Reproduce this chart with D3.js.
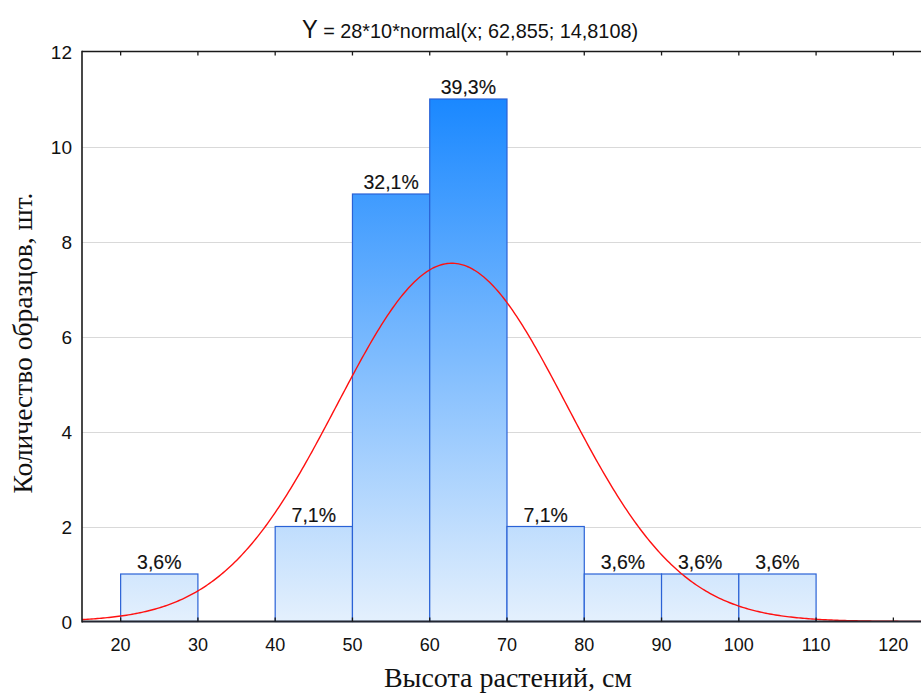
<!DOCTYPE html>
<html>
<head>
<meta charset="utf-8">
<script src="https://cdn.jsdelivr.net/npm/d3@7"></script>
<style>
  html, body { margin: 0; padding: 0; background: #fff; }
  svg { display: block; }
</style>
</head>
<body>
<svg id="chart" width="921" height="694"></svg>
<script>
// Histogram of plant heights with fitted normal curve
const binStarts = [20, 30, 40, 50, 60, 70, 80, 90, 100];
const binWidth = 10;
const counts = [1, 0, 2, 9, 11, 2, 1, 1, 1];
const xTicks = [20, 30, 40, 50, 60, 70, 80, 90, 100, 110, 120];
const yTicks = [0, 2, 4, 6, 8, 10, 12];
const fitMean = 62.855;
const fitSd = 14.8108;
const titleRest = " = 28*10*normal(x; 62,855; 14,8108)";
const xTitle = "Высота растений, см";
const yTitle = "Количество образцов, шт.";

const total = d3.sum(counts);
const svg = d3.select("#chart");

const x = d3.scaleLinear().domain([15, 125]).range([82, 932]);
const y = d3.scaleLinear().domain([0, 12]).range([621.5, 51.5]);

// vertical gradient in user space: dark at the top of the tallest bar, pale at the base
const defs = svg.append("defs");
const grad = defs.append("linearGradient")
  .attr("id", "barGrad")
  .attr("gradientUnits", "userSpaceOnUse")
  .attr("x1", 0).attr("x2", 0)
  .attr("y1", y(11)).attr("y2", y(0));
grad.append("stop").attr("offset", 0).attr("stop-color", "#1a88ff");
grad.append("stop").attr("offset", 1).attr("stop-color", "#e4f0fd");

// grid lines
svg.append("g")
  .selectAll("line")
  .data(yTicks.filter(v => v > 0 && v < 12))
  .join("line")
  .attr("x1", x(15)).attr("x2", 921)
  .attr("y1", d => Math.round(y(d)) + 0.5).attr("y2", d => Math.round(y(d)) + 0.5)
  .attr("stroke", "#d9d9d9").attr("stroke-width", 1);

// bars
const bins = binStarts.map((s, i) => ({ x0: s, x1: s + binWidth, n: counts[i] }));
svg.append("g")
  .selectAll("rect")
  .data(bins.filter(d => d.n > 0))
  .join("rect")
  .attr("x", d => x(d.x0))
  .attr("width", d => x(d.x1) - x(d.x0))
  .attr("y", d => y(d.n))
  .attr("height", d => y(0) - y(d.n))
  .attr("fill", "url(#barGrad)")
  .attr("stroke", "#2a62d6")
  .attr("stroke-width", 1.2);

// fitted normal curve
const normalPdf = v => Math.exp(-0.5 * ((v - fitMean) / fitSd) ** 2) / (fitSd * Math.sqrt(2 * Math.PI));
const curvePts = d3.range(15, 125.01, 0.25).map(v => [v, total * binWidth * normalPdf(v)]);
svg.append("path")
  .datum(curvePts)
  .attr("fill", "none")
  .attr("stroke", "#ff1010")
  .attr("stroke-width", 1.4)
  .attr("d", d3.line().x(d => x(d[0])).y(d => y(d[1])));

// axes frame: top line and bottom line with inward ticks
const axisColor = "#1a1a1a";
svg.append("line")
  .attr("x1", x(15)).attr("x2", 921)
  .attr("y1", y(12)).attr("y2", y(12))
  .attr("stroke", axisColor).attr("stroke-width", 1.6);
svg.append("line")
  .attr("x1", x(15)).attr("x2", 921)
  .attr("y1", y(0)).attr("y2", y(0))
  .attr("stroke", "#222631").attr("stroke-width", 2);
svg.append("line")
  .attr("x1", x(15)).attr("x2", x(15))
  .attr("y1", y(12) - 0.8).attr("y2", y(0) + 1)
  .attr("stroke", axisColor).attr("stroke-width", 1.6);

const tickG = svg.append("g");
xTicks.forEach(t => {
  tickG.append("line")
    .attr("x1", x(t)).attr("x2", x(t))
    .attr("y1", y(12)).attr("y2", y(12) + 4)
    .attr("stroke", axisColor).attr("stroke-width", 1.3);
  tickG.append("line")
    .attr("x1", x(t)).attr("x2", x(t))
    .attr("y1", y(0)).attr("y2", y(0) - 4)
    .attr("stroke", axisColor).attr("stroke-width", 1.3);
});

// tick labels
const sans = "'Liberation Sans', Arial, sans-serif";
svg.append("g")
  .selectAll("text")
  .data(xTicks)
  .join("text")
  .attr("x", d => x(d))
  .attr("y", 651)
  .attr("text-anchor", "middle")
  .attr("font-family", sans)
  .attr("font-size", 18)
  .attr("fill", "#111")
  .text(d => d);

svg.append("g")
  .selectAll("text")
  .data(yTicks)
  .join("text")
  .attr("x", 72)
  .attr("y", d => y(d) + 7)
  .attr("text-anchor", "end")
  .attr("font-family", sans)
  .attr("font-size", 19)
  .attr("fill", "#111")
  .text(d => d);

// percentage labels above bars
const pctFmt = v => (Math.round(v * 1000) / 10).toFixed(1).replace(".", ",") + "%";
svg.append("g")
  .selectAll("text")
  .data(bins.filter(d => d.n > 0))
  .join("text")
  .attr("x", d => x((d.x0 + d.x1) / 2))
  .attr("y", d => y(d.n) - 5)
  .attr("text-anchor", "middle")
  .attr("font-family", sans)
  .attr("font-size", 19.5)
  .attr("fill", "#111")
  .attr("stroke", "#111")
  .attr("stroke-width", 0.15)
  .text(d => pctFmt(d.n / total));

// title, slightly condensed
const title = svg.append("text")
  .attr("transform", "translate(470,38) scale(0.945,1)")
  .attr("text-anchor", "middle")
  .attr("font-family", sans)
  .attr("fill", "#111");
title.append("tspan").attr("font-size", 25).text("Y");
title.append("tspan").attr("font-size", 21).text(titleRest);

// axis titles
const serif = "'Liberation Serif', 'Times New Roman', serif";
svg.append("text")
  .attr("x", 508)
  .attr("y", 687)
  .attr("text-anchor", "middle")
  .attr("font-family", serif)
  .attr("font-size", 28)
  .attr("fill", "#111")
  .text(xTitle);

svg.append("text")
  .attr("transform", "translate(32,343) rotate(-90)")
  .attr("text-anchor", "middle")
  .attr("font-family", serif)
  .attr("font-size", 27.5)
  .attr("fill", "#111")
  .text(yTitle);
</script>
</body>
</html>
